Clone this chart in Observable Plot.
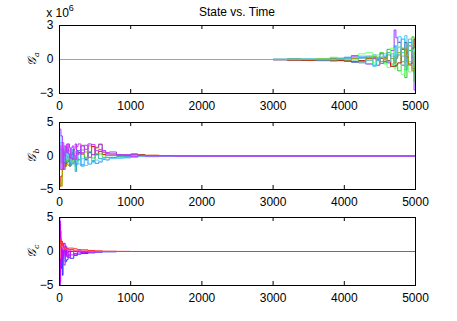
<!DOCTYPE html>
<html>
<head>
<meta charset="utf-8">
<script src="https://cdn.jsdelivr.net/npm/d3@7"></script>
<script src="https://cdn.jsdelivr.net/npm/@observablehq/plot@0.6"></script>
<style>
  html, body { margin: 0; padding: 0; background: #fff; }
  #wrap { position: relative; width: 457px; height: 321px; font-family: "Liberation Sans", Arial, sans-serif; overflow: hidden; }
  #wrap > svg { position: absolute; left: 0; overflow: visible; }
  #title { position: absolute; left: 59px; width: 356px; top: 5px; text-align: center; font-size: 12px; line-height: 14px; color: #000; }
</style>
</head>
<body>
<div id="wrap">
  <div id="title">State vs. Time</div>
</div>
<script>
// ---------- data ----------
const xTicks = [0, 1000, 2000, 3000, 4000, 5000];
const yTicksA = [-3, 0, 3];
const yTicksBC = [-5, 0, 5];

// Panel a (values in units of 10^6)
const timesA = [0, 2500, 3000, 3200, 3400, 3600, 3800, 3900, 4000, 4100, 4200, 4300, 4400, 4450, 4500, 4550, 4600, 4650, 4700, 4725, 4750, 4800, 4850, 4880, 4900, 4950, 4980, 5000];
const a1 = [0, 0, 0.02, -0.05, 0.03, 0.05, 0.1, -0.05, -0.1, 0.3, 0.2, -0.4, 0.1, -0.5, 0.5, 0.2, -0.3, 0.8, 2.6, 1.9, 1.5, -0.5, 0.3, -0.2, 1.2, -0.8, -2.7, -2.5];
const a2 = [0, 0, -0.03, 0.05, -0.04, -0.08, 0.15, 0.05, 0.2, -0.25, -0.3, 0.3, 0.4, 0.1, -0.2, 0.3, 0.6, -0.6, 1.2, 0.1, 0.4, 1.8, -0.9, 0.6, 1.5, 0.2, -1.2, 0.5];
const a3 = [0, 0, 0.01, 0.03, -0.02, 0.06, -0.1, 0.1, 0.15, 0.35, -0.15, 0.2, -0.5, 0.2, 0.6, -0.3, 0.9, -0.4, 0.3, -0.6, -1.0, 1.0, -1.6, -0.5, 0.8, 2.0, -1.9, 0.3];
const a4 = [0, 0, 0.02, -0.04, 0.05, 0.1, 0.2, -0.1, -0.15, 0.1, 0.5, 0.6, -0.3, 0.4, 0.3, -0.4, -0.7, 1.0, -0.8, 0.5, 1.6, -1.3, 0.7, 1.2, -1.1, 1.4, 0.8, -0.6];
const a5 = [0, 0, -0.02, -0.06, -0.08, -0.1, -0.12, -0.1, -0.15, -0.2, -0.1, 0.1, 0.15, -0.1, 0.1, -0.15, -0.1, -0.6, -0.6, -0.5, -0.3, 0.9, 1.5, 0.2, -0.4, 1.0, 1.8, 2.3];
const a6 = [0, 0, 0.01, 0.02, 0.04, -0.05, 0.05, 0.12, 0.1, 0.15, 0.3, -0.35, -0.6, -0.1, 0.2, 0.5, -0.2, 0.5, -0.3, 1.2, 2.0, 0.6, 2.1, 1.0, -0.2, 0.9, 0.4, -0.3];
const a7 = [0, 0, 0, 0.02, -0.02, 0.03, 0.05, 0.0, -0.05, 0.1, -0.2, 0.05, 0.25, 0.0, -0.35, 0.1, 0.4, 0.1, -0.3, 0.2, 0.6, -0.2, 0.9, 0.3, -0.5, -1.0, 0.6, 0.2];
const a8 = [0, 0, 0.01, -0.01, 0.01, 0.02, -0.03, 0.02, 0.05, -0.05, 0.1, -0.1, 0.2, -0.1, 0.15, 0.0, -0.15, 0.3, -0.2, 0.4, 1.1, 0.3, -0.6, 0.4, 1.8, 0.5, -0.4, 0.0];
const seriesA = [a1, a2, a3, a4, a5, a6, a7, a8];
const colorsA = ["#9933ff", "#3399ff", "#22cc22", "#77ff77", "#cc1111", "#33ccff", "#999900", "#66bbbb"];

// Panel b
const timesB = [0, 20, 40, 60, 80, 100, 120, 140, 160, 180, 200, 220, 240, 260, 300, 350, 400, 450, 500, 550, 600, 650, 700, 800, 900, 1000, 1100, 1200, 1400, 1600, 1800, 2000, 5000];
const b1 = [4, 3, 1, -2, 1.5, 0.5, 1.8, 1.2, -0.3, -0.5, 1.0, 1.8, 0.8, 0.3, 1.5, 1.0, 1.8, 0.2, 1.3, 1.7, 0.8, 0.5, 0.6, 0.2, 0.1, 0.2, 0.1, 0.05, 0.05, 0.02, 0.01, 0, 0];
const b2 = [2, 1, -1, 0.5, -0.5, 1.2, 0.2, -1.2, -0.4, 1, 0.1, -1.4, -0.6, 0.8, -1.3, -0.6, -1.2, -0.8, -1.1, -0.9, -0.5, -0.6, -0.3, -0.3, -0.2, -0.1, -0.05, -0.1, -0.05, -0.02, 0, 0, 0];
const b3 = [-4.5, -3, -2, -1, -1.5, 0, -0.8, -1.5, 0.2, 0.5, -0.5, -1, 0.2, 0.5, 0.3, -0.5, 0.5, 1.4, 0.2, 0.7, 0.2, 0.1, 0.1, 0.1, 0.1, 0.3, 0.2, 0.1, 0, 0, 0, 0, 0];
const b4 = [-4, -4.5, -1.8, -1.6, -1.5, -1.2, -1.4, -1.5, -0.8, -0.3, -0.6, -1.0, 0.2, 0.8, 1.6, 0.6, 1.5, 0.2, 1.2, 1.8, 0.5, 0.4, 0.3, 0.2, 0.1, 0.2, 0.1, 0.1, 0.05, 0, 0, 0, 0];
const b5 = [1, -1, 0.5, -1, -0.5, -1, -0.7, -1.5, -1.0, -1.2, -0.8, -2.3, -1.2, -0.5, -1.5, -0.3, 0.5, -0.7, 0.2, -0.4, -0.3, -0.2, -0.2, -0.1, -0.1, 0, 0, 0, 0, 0, 0, 0, 0];
const b6 = [-2, 1, -0.5, 1.5, 0.3, -0.8, 1.0, 0.6, -0.4, -1.0, 0.8, 0.4, -0.3, -0.6, 0.9, -0.2, 0.7, -0.3, 0.4, 0.3, -0.2, 0.1, 0.1, 0.05, 0.1, 0.15, 0.1, 0, 0, 0, 0, 0, 0];
const b7 = [3, 2, 1.5, 0.5, 1, -0.5, 0.6, 1.0, -1.0, -0.8, 0.4, 0.6, -1.0, -1.2, -0.4, -1.4, -0.2, -1.0, -0.6, -0.8, -0.4, -0.5, -0.4, -0.3, -0.3, -0.2, -0.1, -0.05, -0.05, 0, 0, 0, 0];
const b8 = [1.5, -2, 2, 0, 0.8, 1.8, 0.4, -0.3, 1.2, 1.5, 0.2, -0.5, 1.4, 1.8, 0.5, 1.6, -0.2, 1.7, 0.8, 1.0, 0.6, 0.3, 0.3, 0.1, 0.2, -0.1, 0.05, 0, 0, 0, 0, 0, 0];
const seriesB = [b3, b4, b5, b6, b2, b7, b1, b8];
const colorsB = ["#cc0000", "#aaaa00", "#22aaaa", "#44dd44", "#3399ff", "#66ccff", "#aa33ff", "#cc33ff"];

// Panel c
const timesC = [0, 5, 10, 15, 20, 30, 40, 50, 60, 80, 100, 120, 150, 200, 250, 300, 400, 500, 600, 800, 1000, 5000];
const c1 = [-4, 3, -3, 2, -2.5, 1, -3.5, -1, 0.5, -1.5, -1.2, -0.5, -1.0, -0.6, -0.4, -0.3, -0.2, -0.1, -0.05, 0, 0, 0];
const c2 = [5, -5, 4, -2, 1.5, -1, 0.5, 1.2, -2, 0.8, -0.8, 0.3, -0.5, -0.3, -0.2, -0.15, -0.1, -0.05, 0, 0, 0, 0];
const c3 = [-5, 4.5, -4.5, 3, -2, 1.5, -1, -0.5, 1.2, -0.6, 0.5, -0.9, 0.3, -0.5, 0.15, -0.2, 0.05, 0, 0, 0, 0, 0];
const c4 = [2, 1.5, 1.8, 1.2, 0.5, 1.5, 1.0, 0.8, 0.5, 0.6, 0.4, 0.5, 0.5, 0.4, 0.3, 0.25, 0.15, 0.1, 0.05, 0.02, 0, 0];
const c5 = [1, -1, 0.5, 1.2, 1.0, 0.6, 0.8, 0.3, 0.5, 0.4, 0.3, 0.2, 0.2, 0.15, 0.1, 0.1, 0.05, 0.03, 0, 0, 0, 0];
const c6 = [-2, -3, -1, 0.5, -1.5, -0.5, 0.2, -0.5, 0.1, -0.2, -0.1, 0, 0, 0, 0, 0, 0, 0, 0, 0, 0, 0];
const seriesC = [c6, c1, c2, c3, c5, c4];
const colorsC = ["#336699", "#3333ff", "#9933ff", "#cc00ff", "#ff6699", "#ff3333"];

// ---------- drawing ----------
const W = 457, ML = 59, MR = 42;
const font = "Liberation Sans, Arial, sans-serif";

function panel({times, series, colors, yDomain, yTicks, height, mt, mb, top}) {
  const fh = height - mt - mb;
  const marks = [];
  series.forEach((vals, k) => {
    const rows = times.map((t, i) => ({t, v: vals[i]}));
    marks.push(Plot.line(rows, {x: "t", y: "v", stroke: colors[k], strokeWidth: 1, curve: "step-after"}));
  });
  marks.push(
    Plot.tickX(xTicks, {x: d => d, stroke: "#000", insetTop: fh - 4}),
    Plot.tickX(xTicks, {x: d => d, stroke: "#000", insetBottom: fh - 4}),
    Plot.axisX(xTicks, {tickSize: 0, tickPadding: 8, fontSize: 12, tickFormat: d => String(d), label: null}),
    Plot.axisY(yTicks, {tickSize: 0, tickPadding: 6, fontSize: 12, label: null}),
    Plot.frame({stroke: "#000", strokeWidth: 1})
  );
  const svg = Plot.plot({
    width: W, height, marginLeft: ML, marginRight: MR, marginTop: mt, marginBottom: mb,
    x: {domain: [0, 5000]},
    y: {domain: yDomain},
    style: {fontFamily: font, fontSize: "12px", color: "#000", background: "transparent", overflow: "visible"},
    marks
  });
  svg.style.top = top + "px";
  return svg;
}

const wrap = document.getElementById("wrap");
const pA = panel({times: timesA, series: seriesA, colors: colorsA, yDomain: [-3, 3], yTicks: yTicksA, height: 120, mt: 25, mb: 27, top: 0});
const pB = panel({times: timesB, series: seriesB, colors: colorsB, yDomain: [-5, 5], yTicks: yTicksBC, height: 108, mt: 12, mb: 29, top: 110});
const pC = panel({times: timesC, series: seriesC, colors: colorsC, yDomain: [-5, 5], yTicks: yTicksBC, height: 114, mt: 10, mb: 36, top: 207});
wrap.append(pA, pB, pC);

// rotated y labels, centred by measuring their box
function ylabel(svg, sub, cx, cy) {
  const t = d3.select(svg).append("text")
    .attr("font-family", "DejaVu Serif, serif")
    .attr("font-style", "italic")
    .attr("font-size", 12);
  t.append("tspan").text("𝒢");
  t.append("tspan").attr("font-size", 8).attr("dy", 3).text(sub);
  const bb = t.node().getBBox();
  const tx = cx - (bb.y + bb.height / 2);
  const ty = cy + (bb.x + bb.width / 2);
  t.attr("transform", `translate(${tx},${ty}) rotate(-90)`);
}
ylabel(pA, "a", 33, 59);
ylabel(pB, "b", 33, 12 + 33.5);
ylabel(pC, "c", 33, 10 + 34);

// exponent label
const ex = d3.select(pA).append("text").attr("x", 60).attr("y", 17)
  .attr("font-family", font).attr("font-size", 12);
ex.append("tspan").text("x 10");
ex.append("tspan").attr("font-size", 9).attr("dy", -6).text("6");
</script>
</body>
</html>
